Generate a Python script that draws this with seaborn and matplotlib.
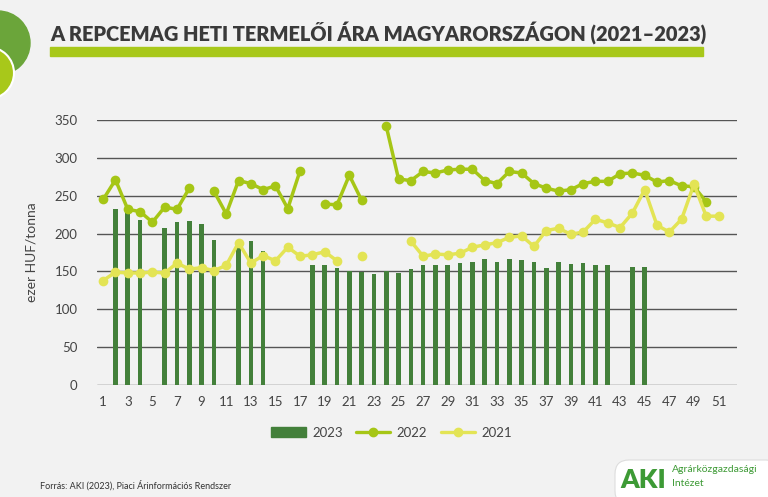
import numpy as np
import pandas as pd
import matplotlib
matplotlib.use("Agg")
import matplotlib.pyplot as plt
import seaborn as sns
from matplotlib.patches import Circle, Rectangle, FancyBboxPatch
from matplotlib.lines import Line2D
from matplotlib.patches import Patch

nan = np.nan

# Heti adatok (ezer HUF/tonna)
weeks = list(range(1, 53))
price_2023 = [nan, 232, 228, 218, nan, 208, 215, 217, 213, 192, nan, 182, 190, 177, nan, nan,
              nan, 158, 158, 154, 150, 149, 147, 150, 148, 153, 158, 158, 158, 161, 162, 166,
              162, 166, 165, 162, 155, 163, 160, 161, 158, 159, nan, 156, 156, nan, nan, nan,
              nan, nan, nan, nan]
price_2022 = [245, 271, 232, 229, 215, 235, 232, 260, nan, 256, 226, 270, 266, 258, 263, 233,
              283, nan, 239, 238, 277, 244, nan, 342, 272, 270, 282, 280, 284, 285, 285, 270,
              266, 282, 280, 266, 260, 256, 258, 266, 269, 269, 279, 280, 277, 268, 270, 263,
              262, 242, nan, nan]
price_2021 = [138, 149, 148, 148, 149, 148, 161, 153, 155, 151, 158, 188, 161, 171, 164, 182,
              170, 172, 176, 164, nan, 171, nan, nan, nan, 190, 170, 173, 172, 174, 182, 185,
              188, 195, 197, 183, 204, 207, 199, 202, 219, 214, 208, 227, 258, 211, 202, 219,
              265, 223, 223, nan]

C23 = "#43803a"
C22 = "#a6c616"
C21 = "#e3e455"
BG = "#f2f2f2"


def with_segments(vals):
    # összefüggő szakaszok, hogy a hiányzó heteknél megszakadjon a vonal
    s = pd.Series(vals, index=weeks)
    seg = s.isna().cumsum()
    df = pd.DataFrame({"week": weeks, "price": vals, "seg": seg.values})
    return df.dropna()


sns.set_theme(style="white")
plt.rcParams["font.family"] = ["Lato", "DejaVu Sans"]

fig = plt.figure(figsize=(7.68, 4.97), dpi=100, facecolor=BG)

# díszítő réteg pixel koordinátákban
deco = fig.add_axes([0, 0, 1, 1])
deco.set_xlim(0, 768)
deco.set_ylim(497, 0)
deco.axis("off")
deco.add_patch(Circle((-2, 43), 32, color="#6ba53a", zorder=1))
deco.add_patch(Circle((-12, 73), 26, facecolor="#a8c81a", edgecolor="white", lw=1.5, zorder=2))
deco.text(50, 33, "A REPCEMAG HETI TERMELŐI ÁRA MAGYARORSZÁGON (2021–2023)",
          fontsize=14.4, fontweight="heavy", color="#3a3a3a", va="center", ha="left")
deco.add_patch(Rectangle((50, 47), 653, 9, color="#a8c81a"))
deco.text(40, 485, "Forrás: AKI (2023), Piaci Árinformációs Rendszer",
          fontsize=6.5, color="#333333", va="center", ha="left")
deco.add_patch(FancyBboxPatch((615, 460), 165, 45, boxstyle="round,pad=0,rounding_size=14",
                              facecolor="white", edgecolor="#dddddd", lw=0.8))
deco.text(620, 480, "AKI", fontsize=19, fontweight="heavy", color="#3d9a35",
          va="center", ha="left")
deco.text(672, 470, "Agrárközgazdasági", fontsize=7.5, color="#3d9a35", va="center", ha="left")
deco.text(672, 483, "Intézet", fontsize=7.5, color="#3d9a35", va="center", ha="left")

ax = fig.add_axes([97 / 768, 1 - 385 / 497, 640 / 768, 265 / 497])
ax.set_facecolor(BG)

bars = pd.DataFrame({"week": weeks, "price": price_2023}).dropna()
sns.barplot(data=bars, x="week", y="price", native_scale=True, color=C23,
            width=0.38, saturation=1, linewidth=0, ax=ax, zorder=2)

for vals, col in [(price_2022, C22), (price_2021, C21)]:
    d = with_segments(vals)
    sns.lineplot(data=d, x="week", y="price", units="seg", estimator=None, color=col,
                 lw=2.5, marker="o", markersize=7, markeredgewidth=0, ax=ax, zorder=3)

ax.set_xlim(0.5, 52.5)
ax.set_ylim(0, 350)
ax.set_yticks(range(0, 351, 50))
ax.set_xticks(range(1, 52, 2))
ax.set_xticklabels([str(w) for w in range(1, 52, 2)])
ax.grid(axis="y", color="#555555", lw=1)
ax.set_axisbelow(True)
for sp in ax.spines.values():
    sp.set_visible(False)
ax.tick_params(axis="both", length=0, labelsize=9.5, colors="#444444")
ax.tick_params(axis="y", pad=14)
ax.tick_params(axis="x", pad=8)
ax.set_xlabel("")
ax.set_ylabel("ezer HUF/tonna", fontsize=10, color="#444444", labelpad=12)

handles = [Patch(color=C23, label="2023"),
           Line2D([], [], color=C22, lw=2.4, marker="o", markersize=6, label="2022"),
           Line2D([], [], color=C21, lw=2.4, marker="o", markersize=6, label="2021")]
fig.legend(handles=handles, loc="center", bbox_to_anchor=(0.51, 0.129), ncol=3,
           frameon=False, fontsize=9.5, handlelength=2.6, handletextpad=0.5,
           columnspacing=1.0, handleheight=0.8, labelcolor="#444444")

fig.savefig("out.png", dpi=100, facecolor=BG)
